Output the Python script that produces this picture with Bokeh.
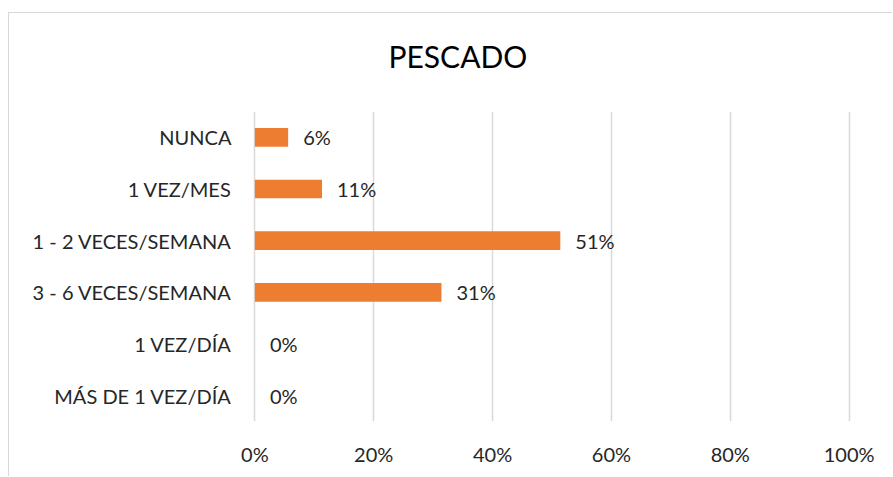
from bokeh.plotting import figure
from bokeh.models import ColumnDataSource, FixedTicker, LabelSet, Range1d, Title
from bokeh.core.properties import value
from bokeh.embed import file_html
from bokeh.resources import INLINE

categories = ["MÁS DE 1 VEZ/DÍA", "1 VEZ/DÍA", "3 - 6 VECES/SEMANA",
              "1 - 2 VECES/SEMANA", "1 VEZ/MES", "NUNCA"]
values = [0.0, 0.0, 0.314, 0.514, 0.113, 0.056]
labels = ["0%", "0%", "31%", "51%", "11%", "6%"]
x_ticks = [0, 0.2, 0.4, 0.6, 0.8, 1.0]
x_tick_labels = ["0%", "20%", "40%", "60%", "80%", "100%"]
title_text = "PESCADO"

FONT = "Lato"
TXT = "#262626"
FS = "20px"

src = ColumnDataSource(dict(cat=categories, val=values, lab=labels))

p = figure(y_range=categories, x_range=Range1d(-0.004, 1.004),
           width=884, height=464, output_backend="svg", toolbar_location=None,
           title=title_text, min_border_left=243, min_border_right=42,
           min_border_top=98, min_border_bottom=56)

p.hbar(y="cat", right="val", left=0, height=0.36, source=src,
       fill_color="#ED7D31", line_color=None)

lbl = LabelSet(x="val", y="cat", text="lab", source=src, x_offset=15,
               text_baseline="middle", text_font=value(FONT), text_font_size=FS,
               text_color=TXT)
p.add_layout(lbl)

p.title.text_font = FONT
p.title.text_font_size = "30px"
p.title.text_font_style = "normal"
p.title.text_color = "#000000"
p.title.align = "left"
p.title.offset = 136
p.title.standoff = 0

# empty spacer between the title and the plot frame
spacer = Title(text=" ", text_font_size="1px", standoff=35)
p.add_layout(spacer, "above")

p.xaxis.ticker = FixedTicker(ticks=x_ticks)
p.xaxis.major_label_overrides = {t: l for t, l in zip(x_ticks, x_tick_labels)}
p.xaxis.axis_line_color = None
p.xaxis.major_tick_line_color = None
p.xaxis.minor_tick_line_color = None
p.xaxis.major_label_standoff = 14
p.xaxis.major_label_text_font = FONT
p.xaxis.major_label_text_font_size = FS
p.xaxis.major_label_text_color = TXT

p.yaxis.axis_line_color = None
p.yaxis.major_tick_line_color = None
p.yaxis.major_label_standoff = 15
p.yaxis.major_label_text_font = FONT
p.yaxis.major_label_text_font_size = FS
p.yaxis.major_label_text_color = TXT

p.xgrid.ticker = FixedTicker(ticks=x_ticks)
p.xgrid.grid_line_color = "#d9d9d9"
p.xgrid.grid_line_width = 1.5
p.ygrid.grid_line_color = None
p.outline_line_color = None

p.margin = (12, 0, 0, 8)
p.styles = {"border-top": "1px solid #d9d9d9", "border-left": "1px solid #d9d9d9"}

open("out.html", "w").write(file_html(p, INLINE))
